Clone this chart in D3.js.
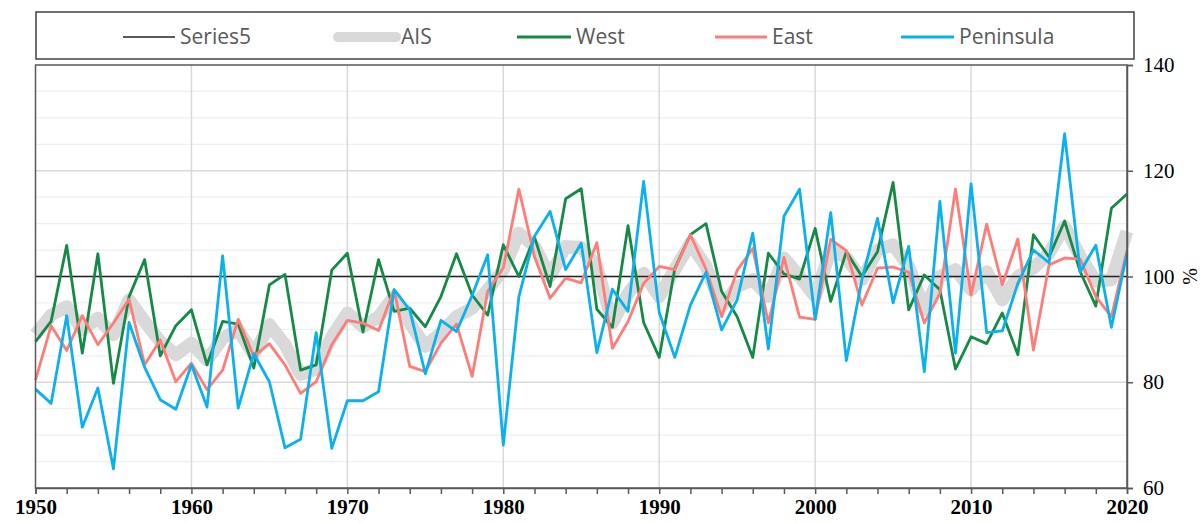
<!DOCTYPE html>
<html>
<head>
<meta charset="utf-8">
<script src="https://cdn.jsdelivr.net/npm/d3@7"></script>
<style>
  body { margin: 0; background: #fff; }
  svg { display: block; }
  .legend text { font-family: "Open Sans", sans-serif; font-size: 21px; fill: #595959; }
  .axis text { font-family: "Liberation Serif", "Times New Roman", serif; fill: #000; }
</style>
</head>
<body>
<svg id="chart" width="1200" height="523"></svg>
<script>
// years 1950..2020
var years = d3.range(1950, 2021);

var west = [87.7, 91.5, 105.9, 85.5, 104.3, 79.8, 96.2, 103.2, 85.0, 90.7,
  93.7, 83.3, 91.5, 91.0, 82.7, 98.4, 100.4, 82.3, 83.3, 101.2,
  104.4, 89.5, 103.2, 93.4, 94.0, 90.5, 96.2, 104.3, 96.5, 92.7,
  106.0, 100.0, 107.5, 98.1, 114.7, 116.6, 93.8, 90.4, 109.6, 91.3,
  84.7, 101.5, 107.9, 110.0, 97.2, 92.4, 84.7, 104.4, 100.5, 99.5,
  109.1, 95.3, 104.7, 100.0, 104.7, 117.8, 93.7, 100.3, 97.5, 82.5,
  88.6, 87.3, 93.1, 85.2, 107.9, 103.7, 110.5, 100.9, 94.4, 112.9,
  115.6];

var east = [80.4, 90.7, 86.0, 92.6, 87.1, 91.2, 95.7, 83.3, 88.0, 80.1,
  83.6, 78.6, 82.3, 91.9, 84.9, 87.3, 83.3, 77.9, 80.1, 87.1,
  91.7, 91.2, 89.8, 97.5, 83.0, 82.0, 87.4, 91.0, 81.1, 97.2,
  101.6, 116.5, 103.8, 95.9, 99.7, 98.8, 106.4, 86.4, 91.5, 98.7,
  101.9, 101.3, 107.9, 101.4, 92.4, 101.2, 105.3, 91.2, 103.6, 92.3,
  91.9, 107.0, 104.9, 94.6, 101.6, 101.8, 100.8, 91.2, 96.8, 116.5,
  96.5, 109.9, 98.4, 107.1, 86.1, 102.2, 103.5, 103.3, 96.2, 92.4,
  104.9];

var peninsula = [78.7, 76.0, 92.6, 71.5, 78.9, 63.6, 91.3, 82.8, 76.7, 74.9,
  83.3, 75.3, 103.9, 75.1, 85.4, 80.1, 67.6, 69.2, 89.4, 67.5,
  76.5, 76.5, 78.2, 97.5, 93.7, 81.6, 91.7, 89.6, 96.4, 104.1,
  68.1, 96.2, 107.6, 112.3, 101.3, 106.3, 85.6, 97.6, 93.4, 118.0,
  93.2, 84.7, 94.6, 100.8, 89.9, 95.6, 108.2, 86.3, 111.4, 116.5,
  91.9, 112.1, 84.1, 99.4, 111.0, 95.0, 105.7, 82.0, 114.2, 85.5,
  117.5, 89.4, 89.7, 98.7, 105.0, 102.6, 127.0, 100.9, 105.9, 90.4,
  104.4];

var ais = [89.0, 92.7, 94.3, 89.9, 92.1, 89.0, 95.6, 91.5, 87.7, 85.2,
  87.4, 84.2, 88.3, 89.9, 85.2, 90.9, 87.1, 81.5, 82.5, 88.6,
  93.1, 90.5, 92.4, 96.2, 91.2, 86.8, 89.3, 92.4, 94.0, 97.5,
  101.3, 108.2, 105.7, 100.0, 105.7, 105.5, 101.9, 91.2, 96.8, 100.6,
  96.2, 101.3, 106.3, 101.9, 94.3, 98.1, 99.4, 96.2, 103.5, 100.0,
  96.2, 105.0, 103.6, 99.4, 105.0, 106.0, 101.9, 93.7, 100.0, 101.3,
  97.5, 100.9, 95.6, 100.0, 101.6, 104.4, 109.5, 103.8, 99.1, 99.4,
  108.5];

// Series5: reference line at 100 %
var series5Years = [1950, 2020];
var series5 = [100, 100];

var yTicks = [60, 80, 100, 120, 140];
var xTicks = d3.range(1950, 2021, 10);

var svg = d3.select("#chart");
var pL = 35.5, pR = 1127, pT = 65, pB = 488;

var x = d3.scaleLinear().domain([1950, 2020]).range([pL, pR]);
var y = d3.scaleLinear().domain([60, 140]).range([pB, pT]);

// gridlines
var grid = svg.append("g");
grid.selectAll("line.minor")
  .data(d3.range(65, 140, 5).filter(function (v) { return v % 20 !== 0; }))
  .enter().append("line")
  .attr("x1", pL).attr("x2", pR)
  .attr("y1", function (d) { return y(d); })
  .attr("y2", function (d) { return y(d); })
  .attr("stroke", "#efefef").attr("stroke-width", 1.2);
grid.selectAll("line.major")
  .data([80, 100, 120])
  .enter().append("line")
  .attr("x1", pL).attr("x2", pR)
  .attr("y1", function (d) { return y(d); })
  .attr("y2", function (d) { return y(d); })
  .attr("stroke", "#d9d9d9").attr("stroke-width", 1.5);
grid.selectAll("line.vert")
  .data(xTicks.slice(1, -1))
  .enter().append("line")
  .attr("x1", function (d) { return x(d); })
  .attr("x2", function (d) { return x(d); })
  .attr("y1", pT).attr("y2", pB)
  .attr("stroke", "#d9d9d9").attr("stroke-width", 1.5);

// series
function line(vals, yrs) {
  return d3.line()
    .x(function (d, i) { return x(yrs[i]); })
    .y(function (d) { return y(d); })(vals);
}

svg.append("path").attr("d", line(ais, years))
  .attr("fill", "none").attr("stroke", "#d9d9d9").attr("stroke-width", 13)
  .attr("stroke-linejoin", "round").attr("stroke-linecap", "butt");
svg.append("path").attr("d", line(series5, series5Years))
  .attr("fill", "none").attr("stroke", "#222").attr("stroke-width", 1.5);
svg.append("path").attr("d", line(west, years))
  .attr("fill", "none").attr("stroke", "#148a46").attr("stroke-width", 2.8)
  .attr("stroke-linejoin", "round");
svg.append("path").attr("d", line(east, years))
  .attr("fill", "none").attr("stroke", "#ff7c78").attr("stroke-width", 2.8)
  .attr("stroke-linejoin", "round");
svg.append("path").attr("d", line(peninsula, years))
  .attr("fill", "none").attr("stroke", "#0bb1ec").attr("stroke-width", 2.8)
  .attr("stroke-linejoin", "round");

// frame
svg.append("rect")
  .attr("x", pL).attr("y", pT)
  .attr("width", pR - pL).attr("height", pB - pT)
  .attr("fill", "none").attr("stroke", "#595959").attr("stroke-width", 1.5);

// axes
var xAxis = svg.append("g").attr("class", "axis")
  .attr("transform", "translate(0," + pB + ")")
  .call(d3.axisBottom(x).tickValues(d3.range(1950, 2021, 2))
    .tickSize(6).tickFormat(function (d) { return d % 10 === 0 ? d : ""; }));
xAxis.select(".domain").attr("stroke", "#595959").attr("stroke-width", 1.5);
xAxis.selectAll(".tick line").attr("stroke", "#595959").attr("stroke-width", 1.5);
xAxis.selectAll("text").attr("font-size", "21px").attr("font-weight", "bold")
  .attr("dy", "0.71em").attr("y", 11);

var yAxis = svg.append("g").attr("class", "axis")
  .attr("transform", "translate(" + pR + ",0)")
  .call(d3.axisRight(y).tickValues(yTicks).tickSize(6).tickPadding(10));
yAxis.select(".domain").attr("stroke", "#595959").attr("stroke-width", 1.5);
yAxis.selectAll(".tick line").attr("stroke", "#595959").attr("stroke-width", 1.5);
yAxis.selectAll("text").attr("font-size", "21px");

svg.append("text").attr("class", "axis")
  .attr("transform", "translate(1190," + y(100) + ") rotate(-90)")
  .attr("text-anchor", "middle").attr("dy", "0.35em")
  .style("font-family", "'Liberation Serif', serif").style("font-size", "20px")
  .text("%");

// legend
var legendItems = ["Series5", "AIS", "West", "East", "Peninsula"];
var legendColors = ["#222", "#d9d9d9", "#148a46", "#ff7c78", "#0bb1ec"];
var legendWidths = [1.5, 10, 3, 3, 3];
var legendX = [123, 338, 517, 715, 901];
var legendLen = [52, 58, 54, 52, 53];

var lg = svg.append("g").attr("class", "legend");
lg.append("rect").attr("x", 36).attr("y", 12).attr("width", 1098).attr("height", 47)
  .attr("fill", "#fff").attr("stroke", "#404040").attr("stroke-width", 1.5);
var li = lg.selectAll("g.item").data(legendItems).enter().append("g");
li.append("line")
  .attr("x1", function (d, i) { return legendX[i]; })
  .attr("x2", function (d, i) { return legendX[i] + legendLen[i]; })
  .attr("y1", 37).attr("y2", 37)
  .attr("stroke", function (d, i) { return legendColors[i]; })
  .attr("stroke-width", function (d, i) { return legendWidths[i]; })
  .attr("stroke-linecap", function (d, i) { return i === 1 ? "round" : "butt"; });
li.append("text")
  .attr("x", function (d, i) { return legendX[i] + legendLen[i] + 5; })
  .attr("y", 37).attr("dy", "0.35em")
  .text(function (d) { return d; });
</script>
</body>
</html>
